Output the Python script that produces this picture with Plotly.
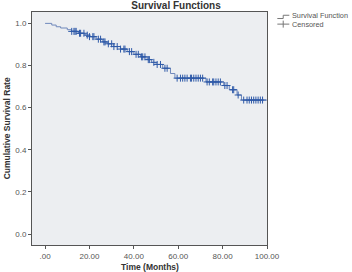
import numpy as np
import plotly.graph_objects as go

# Kaplan-Meier step data
event_times = [0, 3, 5, 7, 10, 12, 15, 18, 20, 23, 26, 28, 31, 34, 37, 40, 43, 46, 48, 50, 53, 56.5, 58.5, 72.5, 80.5, 83, 86.5, 88.5, 100]
survival = [1.0, 0.992, 0.984, 0.978, 0.970, 0.962, 0.953, 0.944, 0.937, 0.925, 0.912, 0.903, 0.890, 0.878, 0.866, 0.853, 0.841, 0.828, 0.815, 0.805, 0.787, 0.762, 0.740, 0.722, 0.705, 0.685, 0.660, 0.636, 0.636]

censor_times = [12, 13, 13.5, 14, 15.5, 16, 17.5, 19, 20, 21.5, 22, 24, 25, 26.5, 27, 28.5, 30, 31, 32.5, 34, 35.5, 36, 38, 39,
                41, 42, 43.5, 44, 45, 46.5, 47, 49, 50.5, 52, 54, 55, 59.5, 61, 62, 63, 64, 65.5, 66, 67, 68, 69, 70, 71,
                73, 74, 75.5, 76, 77, 78, 79, 81, 82, 84.5, 85, 87, 89.5, 91, 92, 93, 94, 95, 96, 97, 98]

x_ticks = [0, 20, 40, 60, 80, 100]
x_ticklabels = [".00", "20.00", "40.00", "60.00", "80.00", "100.00"]
y_ticks = [0.0, 0.2, 0.4, 0.6, 0.8, 1.0]
y_ticklabels = ["0.0", "0.2", "0.4", "0.6", "0.8", "1.0"]

et = np.array(event_times)
sv = np.array(survival)
idx = np.searchsorted(et, np.array(censor_times), side="right") - 1
censor_vals = sv[idx]

FONT = "Arial, Liberation Sans, sans-serif"
LINE_C = "#6f88bb"
CROSS_C = "#2f5aa8"

fig = go.Figure()
fig.add_trace(go.Scatter(x=event_times, y=survival, mode="lines",
                         line=dict(color=LINE_C, width=1, shape="hv"),
                         name="Survival Function", showlegend=False))
fig.add_trace(go.Scatter(x=censor_times, y=censor_vals, mode="markers",
                         marker=dict(symbol="cross-thin", size=5,
                                     line=dict(color=CROSS_C, width=1)),
                         name="Censored", showlegend=False))

# manual legend (paper coords relative to the plot area)
fig.add_shape(type="path", xref="paper", yref="paper",
              path="M 1.044 0.972 L 1.069 0.972 L 1.069 0.986 L 1.095 0.986",
              line=dict(color="#777", width=1))
fig.add_shape(type="line", xref="paper", yref="paper",
              x0=1.044, x1=1.095, y0=0.948, y1=0.948,
              line=dict(color="#777", width=1))
fig.add_shape(type="line", xref="paper", yref="paper",
              x0=1.069, x1=1.069, y0=0.933, y1=0.963,
              line=dict(color="#777", width=1))
fig.add_annotation(text="Survival Function", xref="paper", yref="paper",
                   x=1.097, y=0.983, xanchor="left", yanchor="middle", showarrow=False,
                   font=dict(family=FONT, size=7.3, color="#555"))
fig.add_annotation(text="Censored", xref="paper", yref="paper",
                   x=1.097, y=0.948, xanchor="left", yanchor="middle", showarrow=False,
                   font=dict(family=FONT, size=7.3, color="#555"))

# axis titles
fig.add_annotation(text="<b>Time (Months)</b>", xref="paper", yref="paper",
                   x=0.5, y=-0.094, xanchor="center", yanchor="middle", showarrow=False,
                   font=dict(family=FONT, size=8.5, color="#333"))
fig.add_annotation(text="<b>Cumulative Survival Rate</b>", xref="paper", yref="paper",
                   x=-0.107, y=0.5, xanchor="center", yanchor="middle", showarrow=False,
                   textangle=-90, font=dict(family=FONT, size=8.5, color="#333"))

fig.update_layout(
    width=352, height=272,
    margin=dict(l=32, r=85, t=12, b=27, autoexpand=False),
    paper_bgcolor="white", plot_bgcolor="#eceef1",
    title=dict(text="<b>Survival Functions</b>", x=0.5, xanchor="center",
               y=0.978, yanchor="middle", font=dict(family=FONT, size=10, color="#333")),
    font=dict(family=FONT, color="#444"),
)
fig.update_xaxes(range=[-5.9, 100], tickvals=x_ticks, ticktext=x_ticklabels,
                 showgrid=False, zeroline=False, showline=True, mirror=True, automargin=False,
                 linecolor="#555", linewidth=1, ticks="outside", ticklen=3, tickcolor="#555",
                 tickfont=dict(family=FONT, size=8, color="#555"))
fig.update_yaxes(range=[-0.052, 1.054], tickvals=y_ticks, ticktext=y_ticklabels,
                 showgrid=False, zeroline=False, showline=True, mirror=True, automargin=False,
                 linecolor="#555", linewidth=1, ticks="outside", ticklen=3, tickcolor="#555",
                 tickfont=dict(family=FONT, size=8, color="#555"))

fig.write_html("out.html")
